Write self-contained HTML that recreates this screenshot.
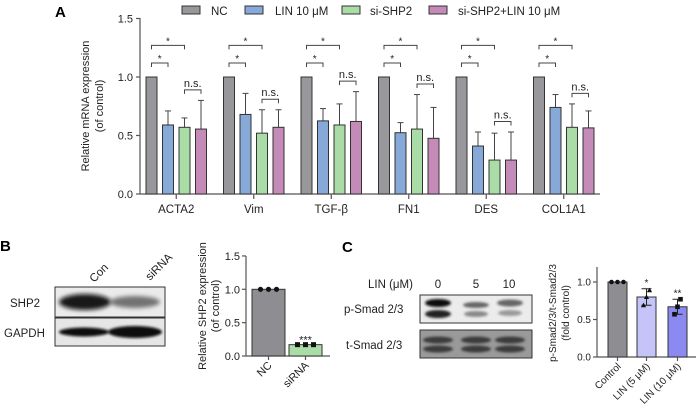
<!DOCTYPE html>
<html><head><meta charset="utf-8">
<style>
html,body{margin:0;padding:0;background:#fff;}
svg{display:block;font-family:"Liberation Sans",Arial,sans-serif;}
</style></head>
<body>
<svg id="fig" width="698" height="414" viewBox="0 0 698 414" xmlns="http://www.w3.org/2000/svg">
<defs>
<filter id="blur1" x="-30%" y="-80%" width="160%" height="260%"><feGaussianBlur stdDeviation="2.2"/></filter>
<filter id="blur2" x="-30%" y="-80%" width="160%" height="260%"><feGaussianBlur stdDeviation="1.4"/></filter>
</defs>
<text x="55" y="17" font-size="15" font-weight="bold">A</text>
<text x="0" y="251" font-size="15" font-weight="bold">B</text>
<text x="342" y="252" font-size="15" font-weight="bold">C</text>
<g id="gA"></g>
<g id="gB"></g>
<g id="gC"></g>
</svg>
<script>
// Panel A data
const genes = ["ACTA2","Vim","TGF-β","FN1","DES","COL1A1"];
const seriesNames = ["NC","LIN 10 μM","si-SHP2","si-SHP2+LIN 10 μM"];
const ncVals = [1,1,1,1,1,1];
const linVals = [0.59,0.68,0.625,0.524,0.41,0.74];
const siVals = [0.57,0.52,0.59,0.555,0.29,0.57];
const siLinVals = [0.555,0.57,0.62,0.476,0.29,0.565];
const linErr = [0.71,0.86,0.73,0.61,0.53,0.85];
const siErr = [0.65,0.72,0.77,0.85,0.52,0.77];
const siLinErr = [0.80,0.72,0.875,0.74,0.53,0.71];
const yTicksA = [0,0.5,1.0,1.5];
// Panel B data
const catsB = ["NC","siRNA"];
const valsB = [1.0,0.17];
const dotsB = [[1,1,1],[0.17,0.17,0.17]];
const yTicksB = [0,0.5,1.0,1.5];
// Panel C data
const catsC = ["Control","LIN (5 μM)","LIN (10 μM)"];
const valsC = [1.0,0.80,0.67];
const errC = [0,0.11,0.10];
const dotsC = [[1,1,1],[0.69,0.80,0.89],[0.57,0.67,0.77]];
const sigC = ["","*","**"];
const yTicksC = [0,0.5,1.0];

const NS="http://www.w3.org/2000/svg";
function mk(parent,tag,attrs,text){const e=document.createElementNS(NS,tag);for(const k in attrs)e.setAttribute(k,attrs[k]);if(text!==undefined)e.textContent=text;parent.appendChild(e);return e;}
const fmt=v=>v.toFixed(1);

// ---------- Panel A ----------
(function(){
const g=document.getElementById('gA');
const x0=140,x1=600,yTop=18,y0=194,unit=117;
const y=v=>y0-v*unit;
const colors=["#98989c","#86a9d8","#a9dca6","#c48ab8"];
const groupStart=146,groupStep=77.5,barStep=16.5,bw=11;
const all=[ncVals,linVals,siVals,siLinVals];
const errs=[null,linErr,siErr,siLinErr];
let ax=mk(g,'line',{x1:x0,y1:yTop,x2:x0,y2:y0,stroke:'#555','stroke-width':1.2});
 
let bx=mk(g,'line',{x1:x0,y1:y0,x2:x1,y2:y0,stroke:'#555','stroke-width':1.2});
 
yTicksA.forEach(t=>{
 mk(g,'line',{x1:x0-4,y1:y(t),x2:x0,y2:y(t),stroke:'#555','stroke-width':1.2});
 let tl=mk(g,'text',{x:x0-7,y:y(t)+4,'font-size':11,'text-anchor':'end',fill:'#222'},fmt(t));
  
});
let yl=mk(g,'text',{transform:'translate(89,106) rotate(-90)','font-size':11,'text-anchor':'middle',fill:'#222'},'Relative mRNA expression');
 
let yl2=mk(g,'text',{transform:'translate(103,106) rotate(-90)','font-size':11,'text-anchor':'middle',fill:'#222'},'(of control)');
 
genes.forEach((gn,i)=>{
 const gx=groupStart+i*groupStep;
 const cx=gx+1.5*barStep+bw/2;
 mk(g,'line',{x1:cx,y1:y0,x2:cx,y2:y0+5,stroke:'#555','stroke-width':1.2});
 let lab=mk(g,'text',{x:cx,y:y0+19,'font-size':11.5,'text-anchor':'middle',fill:'#222'},gn);
  
 const bxs=[];
 all.forEach((arr,s)=>{
  const bxp=gx+s*barStep; bxs.push(bxp+bw/2);
  if(errs[s]){
   const ey=y(errs[s][i]);
   mk(g,'line',{x1:bxp+bw/2,y1:ey,x2:bxp+bw/2,y2:y(arr[i]),stroke:'#444','stroke-width':1});
   mk(g,'line',{x1:bxp+bw/2-3,y1:ey,x2:bxp+bw/2+3,y2:ey,stroke:'#444','stroke-width':1});
  }
  let r=mk(g,'rect',{x:bxp,y:y(arr[i]),width:bw,height:y0-y(arr[i]),fill:colors[s],stroke:'#333','stroke-width':1});
   
 });
 const br=(xa,xb,yy,txt,ty)=>{
  mk(g,'path',{d:`M${xa},${yy+4}V${yy}H${xb}V${yy+4}`,fill:'none',stroke:'#444','stroke-width':1});
  let t=mk(g,'text',{x:(xa+xb)/2,y:yy-ty,'font-size':txt==='*'?10:11,'text-anchor':'middle',fill:'#222'},txt);
   
 };
 br(bxs[0],bxs[2],y(1.27),'*',1);
 br(bxs[0],bxs[1],y(1.12),'*',1);
 br(bxs[2],bxs[3],y(Math.max(siErr[i],siLinErr[i])+0.09),'n.s.',3);
});
const lx=[182,245,342,429],tx=[211,275,370,458];
seriesNames.forEach((n,s)=>{
 let lg=mk(g,'g',{});
  
 mk(lg,'rect',{x:lx[s],y:6,width:18,height:8,fill:colors[s],stroke:'#333','stroke-width':1});
 mk(lg,'text',{x:tx[s],y:15,'font-size':11.5,fill:'#222'},n);
});
})();

// ---------- Panel B ----------
(function(){
const g=document.getElementById('gB');
let bl=mk(g,'g',{});
 
mk(bl,'rect',{x:55,y:287,width:110,height:30,fill:'#ebebeb',stroke:'#333','stroke-width':1});
mk(bl,'rect',{x:55,y:318,width:110,height:28,fill:'#e6e6e6',stroke:'#333','stroke-width':1});
mk(bl,'ellipse',{cx:85,cy:302,rx:26,ry:8,fill:'#111',filter:'url(#blur1)',opacity:0.95});
mk(bl,'ellipse',{cx:135,cy:302,rx:25,ry:6,fill:'#555',filter:'url(#blur1)',opacity:0.8});
mk(bl,'ellipse',{cx:84,cy:332,rx:25,ry:4.5,fill:'#111',filter:'url(#blur2)'});
mk(bl,'ellipse',{cx:135,cy:332,rx:27,ry:6,fill:'#0a0a0a',filter:'url(#blur2)'});
[['SHP2',10,307],['GAPDH',4,337]].forEach(a=>{let t=mk(g,'text',{x:a[1],y:a[2],'font-size':11.5,fill:'#222'},a[0]);});
[['Con',94,283],['siRNA',150,281]].forEach(a=>{let t=mk(g,'text',{transform:`translate(${a[1]},${a[2]}) rotate(-45)`,'font-size':11.5,fill:'#222'},a[0]);});
const x0=246,x1=330,y0=356,unit=66.7,yTop=256;
const y=v=>y0-v*unit;
mk(g,'line',{x1:x0,y1:yTop,x2:x0,y2:y0,stroke:'#555','stroke-width':1.2});
mk(g,'line',{x1:x0,y1:y0,x2:x1,y2:y0,stroke:'#555','stroke-width':1.2});
yTicksB.forEach(t=>{
 mk(g,'line',{x1:x0-4,y1:y(t),x2:x0,y2:y(t),stroke:'#555','stroke-width':1.2});
 let tl=mk(g,'text',{x:x0-6,y:y(t)+4,'font-size':11,'text-anchor':'end',fill:'#222'},fmt(t));
  
});
let yl=mk(g,'text',{transform:'translate(206,306) rotate(-90)','font-size':11,'text-anchor':'middle',fill:'#222'},'Relative SHP2 expression');
 
let yl2=mk(g,'text',{transform:'translate(219,306) rotate(-90)','font-size':11,'text-anchor':'middle',fill:'#222'},'(of control)');
 
const cols=['#8e8e92','#a9dca6'],bxs=[252,289],bw=33;
catsB.forEach((c,i)=>{
 let r=mk(g,'rect',{x:bxs[i],y:y(valsB[i]),width:bw,height:y0-y(valsB[i]),fill:cols[i],stroke:'#333','stroke-width':1});
  
 const cx=bxs[i]+bw/2;
 mk(g,'line',{x1:cx,y1:y0,x2:cx,y2:y0+4,stroke:'#555','stroke-width':1.2});
 dotsB[i].forEach((d,k)=>{
  if(i===0) mk(g,'circle',{cx:cx-8+k*8,cy:y(d),r:2.6,fill:'#111'});
  else mk(g,'rect',{x:cx-8+k*8-2.5,y:y(d)-2.5,width:5,height:5,fill:'#111'});
 });
 let t=mk(g,'text',{transform:`translate(${cx+4},${y0+10}) rotate(-45)`,'font-size':11,'text-anchor':'end',fill:'#222'},c);
  
});
let s=mk(g,'text',{x:bxs[1]+bw/2,y:y(valsB[1])-1,'font-size':11,'text-anchor':'middle',fill:'#222'},'***');
 
})();

// ---------- Panel C ----------
(function(){
const g=document.getElementById('gC');
let t0=mk(g,'text',{x:368,y:288,'font-size':11.5,fill:'#222'},'LIN (μM)');
 
[['0',438],['5',476],['10',509]].forEach(a=>{let t=mk(g,'text',{x:a[1],y:288,'font-size':11.5,'text-anchor':'middle',fill:'#222'},a[0]);});
[['p-Smad 2/3',344,313],['t-Smad 2/3',346,349]].forEach(a=>{let t=mk(g,'text',{x:a[1],y:a[2],'font-size':11.5,fill:'#222'},a[0]);});
let bl=mk(g,'g',{});
 
mk(bl,'rect',{x:420,y:295,width:112,height:28,fill:'#ececec',stroke:'#333','stroke-width':1});
mk(bl,'rect',{x:420,y:330,width:112,height:28,fill:'#9a9a9a',stroke:'#333','stroke-width':1});
mk(bl,'ellipse',{cx:438,cy:303,rx:13,ry:4,fill:'#111',filter:'url(#blur2)'});
mk(bl,'ellipse',{cx:438,cy:314,rx:13,ry:4,fill:'#222',filter:'url(#blur2)'});
mk(bl,'ellipse',{cx:476,cy:305,rx:13,ry:3,fill:'#666',filter:'url(#blur2)'});
mk(bl,'ellipse',{cx:476,cy:314,rx:12,ry:3,fill:'#888',filter:'url(#blur2)'});
mk(bl,'ellipse',{cx:510,cy:303,rx:13,ry:3.5,fill:'#666',filter:'url(#blur2)'});
mk(bl,'ellipse',{cx:510,cy:313,rx:12,ry:3,fill:'#999',filter:'url(#blur2)'});
[438,476,510].forEach(cx=>{
 mk(bl,'ellipse',{cx:cx,cy:340,rx:15,ry:3.5,fill:'#3a3a3a',filter:'url(#blur2)'});
 mk(bl,'ellipse',{cx:cx,cy:349,rx:15,ry:3.5,fill:'#3a3a3a',filter:'url(#blur2)'});
});
const x0=597,x1=696,y0=357,unit=75,yTop=267;
const y=v=>y0-v*unit;
mk(g,'line',{x1:x0,y1:yTop,x2:x0,y2:y0,stroke:'#555','stroke-width':1.2});
mk(g,'line',{x1:x0,y1:y0,x2:x1,y2:y0,stroke:'#555','stroke-width':1.2});
yTicksC.forEach(t=>{
 mk(g,'line',{x1:x0-4,y1:y(t),x2:x0,y2:y(t),stroke:'#555','stroke-width':1.2});
 let tl=mk(g,'text',{x:x0-6,y:y(t)+3.5,'font-size':10,'text-anchor':'end',fill:'#222'},fmt(t));
  
});
let yl=mk(g,'text',{transform:'translate(556,313) rotate(-90)','font-size':10,'text-anchor':'middle',fill:'#222'},'p-Smad2/3/t-Smad2/3');
 
let yl2=mk(g,'text',{transform:'translate(569,313) rotate(-90)','font-size':10,'text-anchor':'middle',fill:'#222'},'(fold control)');
 
const cols=['#8e8e92','#c4c4f8','#8a8af0'],bxs=[608,637,668],bw=19;
catsC.forEach((c,i)=>{
 let r=mk(g,'rect',{x:bxs[i],y:y(valsC[i]),width:bw,height:y0-y(valsC[i]),fill:cols[i],stroke:'#333','stroke-width':1});
  
 const cx=bxs[i]+bw/2;
 mk(g,'line',{x1:cx,y1:y0,x2:cx,y2:y0+4,stroke:'#555','stroke-width':1.2});
 if(errC[i]>0){
  const a=y(valsC[i]+errC[i]),b=y(valsC[i]-errC[i]);
  mk(g,'line',{x1:cx,y1:a,x2:cx,y2:b,stroke:'#222','stroke-width':1});
  mk(g,'line',{x1:cx-5,y1:a,x2:cx+5,y2:a,stroke:'#222','stroke-width':1});
  mk(g,'line',{x1:cx-5,y1:b,x2:cx+5,y2:b,stroke:'#222','stroke-width':1});
 }
 dotsC[i].forEach((d,k)=>{
  const dx=i===0?cx-6+k*6:cx+(k-1)*3;
  if(i===0) mk(g,'circle',{cx:dx,cy:y(d),r:2.3,fill:'#111'});
  else if(i===1) mk(g,'path',{d:`M${dx},${y(d)-2.6}L${dx+2.6},${y(d)+2}L${dx-2.6},${y(d)+2}Z`,fill:'#111'});
  else mk(g,'rect',{x:dx-2.3,y:y(d)-2.3,width:4.6,height:4.6,fill:'#111'});
 });
 if(sigC[i]){let s=mk(g,'text',{x:cx,y:y(valsC[i]+errC[i])-3,'font-size':10,'text-anchor':'middle',fill:'#222'},sigC[i]);}
 let t=mk(g,'text',{transform:`translate(${cx+4},${y0+10}) rotate(-45)`,'font-size':10,'text-anchor':'end',fill:'#222'},c);
  
});
})();
</script>
</body></html>
